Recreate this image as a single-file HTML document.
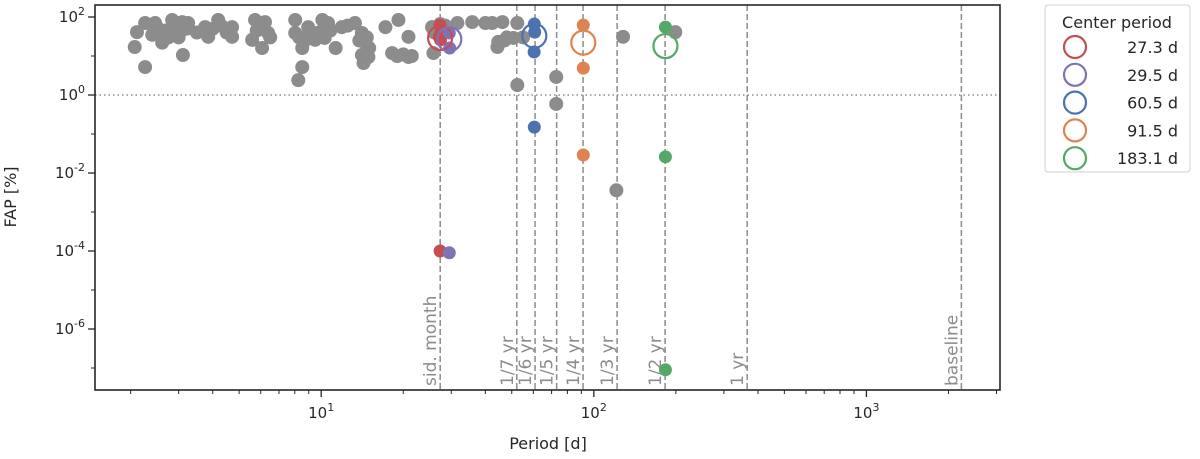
<!DOCTYPE html>
<html><head><meta charset="utf-8"><style>
body{margin:0;background:#fff;}
svg{display:block;font-family:"DejaVu Sans","Liberation Sans",sans-serif;}
</style></head><body>
<svg id="chart" width="1200" height="459" xmlns="http://www.w3.org/2000/svg">
<g id="grid"></g>
<g id="pts"></g>
<g id="axes"></g>
<rect x="95" y="5" width="905" height="385" fill="none" stroke="#262626" stroke-width="1.6"/>
<text x="548" y="449" font-size="16" fill="#262626" text-anchor="middle">Period [d]</text>
<text transform="translate(16,197) rotate(-90)" font-size="16" fill="#262626" text-anchor="middle">FAP [%]</text>
<g>
<rect x="1045" y="5" width="145" height="167" fill="#fff" stroke="#d0d0d0" rx="3"/>
<text x="1117" y="28" font-size="16" fill="#262626" text-anchor="middle">Center period</text>
<g id="legend"></g>
</g>
</svg>
<script>
const grayPeriod=[2.11,2.26,2.46,2.61,2.84,3.09,3.25,2.91,2.07,2.61,2.26,3.11,3.75,4.19,4.71,3.85,4.71,5.72,6.22,5.58,6.39,6.07,8.03,8.03,8.96,10.1,10.6,8.52,9.5,10.3,11.3,8.52,8.24,11.9,13.3,14.1,14.5,14.1,14.9,14.3,17.2,19.2,20.9,18.2,20.9,25.5,25.8,27.3,31.6,35.8,42.4,46.2,52.4,44.6,44.3,50.7,52.4,72.8,72.8,128,199,121,
2.5,2.7,2.95,3.0,3.2,2.75,2.4,3.5,3.9,4.3,4.5,4.0,5.8,6.0,6.5,8.3,8.7,9.2,9.8,10.8,12.5,13.8,14.7,15.0,19.0,20.0,21.5,26.0,28.5,40.0,48.0,55.0,47.0];
const grayFAP=[41,70,70,41,84,74,70,39,17,22,5.2,10.6,55,84,55,31,31,84,74,26,39,16,84,39,55,84,70,16,26,29,16,5.2,2.4,55,70,39,22,10.6,9.4,6.6,55,84,31,11.9,9.4,55,11.9,66,70,74,70,74,70,23,17,29,1.8,2.9,0.59,31,41,0.0036,
55,45,60,30,50,30,35,40,45,60,40,50,45,55,30,30,25,35,40,45,60,25,30,16,10,11,10,40,60,70,30,30,25];
const groupNames=["27.3 d","29.5 d","60.5 d","91.5 d","183.1 d"];
const groupColors=["#c44e52","#8172b3","#4c72b0","#dd8452","#55a868"];
const centerPeriod=[27.3,29.5,60.5,91.5,183.1];
const centerFAP=[29,27,33,22,18];
const dotPeriods=[[27.3,27.5,27.1,27.4,27.3],[29.5,29.6,29.5],[60.5,60.7,60.4,60.5],[91.5,91.5,91.5],[183.1,183.1,183.1]];
const dotFAP=[[62,41,31,26,0.0001],[39,16,0.00009],[66,41,12.7,0.15],[62,4.9,0.029],[55,0.026,9e-8]];
const refPeriods=[27.32,52.18,60.88,73.05,91.31,121.75,182.6,365.25,2230];
const refLabels=["sid. month","1/7 yr","1/6 yr","1/5 yr","1/4 yr","1/3 yr","1/2 yr","1 yr","baseline"];
const yTickExp=[2,0,-2,-4,-6];

const NS="http://www.w3.org/2000/svg";
const X0=95,X1=1000,Y0=5,Y1=390;
const xmin=Math.log10(1.48),xmax=Math.log10(3090),ymin=-7.564,ymax=2.308;
function xs(p){return X0+(Math.log10(p)-xmin)/(xmax-xmin)*(X1-X0);}
function ys(f){return Y1-(Math.log10(f)-ymin)/(ymax-ymin)*(Y1-Y0);}
function mk(tag,attrs,parent){const e=document.createElementNS(NS,tag);for(const k in attrs)e.setAttribute(k,attrs[k]);parent.appendChild(e);return e;}
const grid=document.getElementById('grid'),pts=document.getElementById('pts'),axes=document.getElementById('axes'),leg=document.getElementById('legend');

const hl=mk('line',{x1:X0,x2:X1,y1:ys(1),y2:ys(1),stroke:'#777','stroke-width':1.2,'stroke-dasharray':'1.5,3'},grid);


refPeriods.forEach((p,i)=>{
  const x=xs(p);
  const l=mk('line',{x1:x,x2:x,y1:Y0,y2:Y1,stroke:'#8c8c8c','stroke-width':1.5,'stroke-dasharray':'6,3'},grid);
  
  
  const t=mk('text',{transform:`translate(${x-4},386) rotate(-90)`,'font-size':17,fill:'#8c8c8c'},grid);
  t.textContent=refLabels[i];
  
  
});
grayPeriod.forEach((p,i)=>{
  const c=mk('circle',{cx:xs(p),cy:ys(grayFAP[i]),r:7,fill:'#8c8c8c'},pts);
  
  
});
dotPeriods.forEach((arr,g)=>{
  arr.forEach((p,i)=>{
    const c=mk('circle',{cx:xs(p),cy:ys(dotFAP[g][i]),r:6.5,fill:groupColors[g]},pts);
    
    
  });
});
centerPeriod.forEach((p,g)=>{
  const c=mk('circle',{cx:xs(p),cy:ys(centerFAP[g]),r:12,fill:'none',stroke:groupColors[g],'stroke-width':2.2},pts);
  
  
});
for(let e=0;e<=3;e++){for(let m=1;m<10;m++){const v=m*Math.pow(10,e);if(v<1.48||v>3090)continue;
  const x=xs(v);const major=m===1;
  const t=mk('line',{x1:x,x2:x,y1:Y1,y2:Y1+(major?7:4),stroke:'#262626','stroke-width':major?1.3:1},axes);
  
  
  if(major&&e>=1){const tx=mk('text',{x:x,y:418,'font-size':15,fill:'#262626','text-anchor':'middle'},axes);
    tx.innerHTML='10<tspan dy="-7" font-size="11">'+e+'</tspan>';
    
    }
}}
for(let e=-7;e<=2;e++){const y=ys(Math.pow(10,e));const major=yTickExp.includes(e);
  const t=mk('line',{x1:X0-(major?7:4),x2:X0,y1:y,y2:y,stroke:'#262626','stroke-width':major?1.3:1},axes);
  
  
  if(major){const tx=mk('text',{x:X0-10,y:y+5,'font-size':15,fill:'#262626','text-anchor':'end'},axes);
    tx.innerHTML='10<tspan dy="-7" font-size="11">'+e+'</tspan>';
    
    }
}
groupNames.forEach((n,g)=>{
  const y=47+g*27.8;
  const c=mk('circle',{cx:1075,cy:y,r:11,fill:'none',stroke:groupColors[g],'stroke-width':2.2},leg);
  
  
  const t=mk('text',{x:1178,y:y+6,'font-size':16,fill:'#262626','text-anchor':'end'},leg);
  t.textContent=n;
  
  
});
</script>
</body></html>
